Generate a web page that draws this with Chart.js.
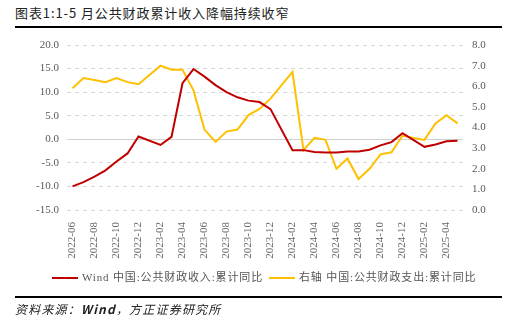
<!DOCTYPE html>
<html>
<head>
<meta charset="utf-8">
<script src="https://cdn.jsdelivr.net/npm/chart.js@4"></script>
<style>
  body { margin: 0; background: #fff; width: 518px; height: 324px; overflow: hidden; position: relative; font-family: "Noto Sans CJK SC", sans-serif; }
  #title { position: absolute; left: 15px; top: 3px; font-size: 13px; color: #222; letter-spacing: 0.9px; }
  .rule { position: absolute; left: 15px; width: 487px; height: 2px; background: #000; }
  #chartBox { position: absolute; left: 0; top: 0; width: 518px; height: 324px; }
  #legend { position: absolute; top: 268px; left: 52px; font-size: 11px; color: #555; font-family: "Liberation Serif", "Noto Sans CJK SC", serif; white-space: nowrap; letter-spacing: 0.85px; }
  #legend span.sw { display: inline-block; width: 26px; height: 2px; vertical-align: middle; margin-right: 4px; }
  #legend span.item { margin-right: 6px; }
  #source { position: absolute; left: 15px; top: 300px; font-size: 12px; font-style: italic; color: #222; letter-spacing: 1.2px; }
</style>
</head>
<body>
<div id="title">图表1:1-5 月公共财政累计收入降幅持续收窄</div>
<div class="rule" style="top:26px"></div>
<div id="chartBox"><canvas id="myChart" width="518" height="324"></canvas></div>
<div id="legend"></div>
<div class="rule" style="top:296px"></div>
<div id="source">资料来源：<b>Wind</b>，方正证券研究所</div>
<script>
var months = ['2022-06', '2022-07', '2022-08', '2022-09', '2022-10', '2022-11', '2022-12',
  '2023-01', '2023-02', '2023-03', '2023-04', '2023-05', '2023-06', '2023-07', '2023-08', '2023-09', '2023-10', '2023-11', '2023-12',
  '2024-01', '2024-02', '2024-03', '2024-04', '2024-05', '2024-06', '2024-07', '2024-08', '2024-09', '2024-10', '2024-11', '2024-12',
  '2025-01', '2025-02', '2025-03', '2025-04', '2025-05'];
// 收入 (left axis)
var revenue = [-10.0, -9.1, -7.9, -6.6, -4.7, -3.0, 0.6,
  null, -1.2, 0.5, 11.9, 14.9, 13.3, 11.5, 10.0, 8.9, 8.2, 7.9, 6.4,
  null, -2.3, -2.3, -2.7, -2.8, -2.8, -2.6, -2.6, -2.2, -1.3, -0.6, 1.3,
  null, -1.6, -1.1, -0.4, -0.3];
// 支出 (right axis)
var spending = [5.9, 6.4, 6.3, 6.2, 6.4, 6.2, 6.1,
  null, 7.0, 6.8, 6.8, 5.8, 3.9, 3.3, 3.8, 3.9, 4.6, 4.9, 5.4,
  null, 6.7, 2.9, 3.5, 3.4, 2.0, 2.5, 1.5, 2.0, 2.7, 2.8, 3.6,
  null, 3.4, 4.2, 4.6, 4.2];
var seriesNames = ['Wind 中国:公共财政收入:累计同比', '右轴 中国:公共财政支出:累计同比'];
var seriesColors = ['#C00000', '#FFC000'];

var lg = document.getElementById('legend');
for (var i = 0; i < seriesNames.length; i++) {
    lg.innerHTML += '<span class="item"><span class="sw" style="background:' + seriesColors[i] + '"></span>' + seriesNames[i] + '</span>';
}

var tickFont = { family: 'Liberation Serif', size: 11 };
new Chart('myChart', {
    type: 'line',
    data: {
        labels: months,
        datasets: [{
            data: revenue,
            borderColor: seriesColors[0],
            borderWidth: 2,
            pointRadius: 0,
            spanGaps: true,
            tension: 0,
            yAxisID: 'y'
        }, {
            data: spending,
            borderColor: seriesColors[1],
            borderWidth: 2,
            pointRadius: 0,
            spanGaps: true,
            tension: 0,
            yAxisID: 'y1'
        }]
    },
    options: {
        responsive: false,
        animation: false,
        layout: { padding: { top: 45, left: 0, right: 0, bottom: 0 } },
        plugins: { legend: { display: false }, tooltip: { enabled: false } },
        scales: {
            x: {
                offset: true,
                grid: { display: false },
                border: { display: false },
                ticks: {
                    autoSkip: false,
                    maxRotation: 90,
                    minRotation: 90,
                    color: '#666',
                    font: tickFont,
                    padding: 4,
                    callback: function (v, i) { return i % 2 === 0 ? months[i] : null; }
                },
                afterFit: function (s) { s.height = 114; }
            },
            y: {
                position: 'left',
                min: -15, max: 20,
                ticks: {
                    stepSize: 5,
                    color: '#595959',
                    font: tickFont,
                    padding: 8,
                    callback: function (v) { return v.toFixed(1); }
                },
                grid: {
                    drawTicks: false,
                    color: function (c) { return c.tick && c.tick.value === 0 ? '#d0d0d0' : '#d9d9d9'; },
                    lineWidth: 1
                },
                border: {
                    display: false,
                    dash: function (c) { return c.tick && c.tick.value === 0 ? [] : [4, 4]; }
                },
                afterFit: function (s) { s.width = 67; }
            },
            y1: {
                position: 'right',
                min: 0, max: 8,
                ticks: {
                    stepSize: 1,
                    color: '#595959',
                    font: tickFont,
                    padding: 9,
                    callback: function (v) { return v.toFixed(1); }
                },
                grid: { display: false, drawTicks: false },
                border: { display: false },
                afterFit: function (s) { s.width = 55; }
            }
        }
    }
});
</script>
</body>
</html>
